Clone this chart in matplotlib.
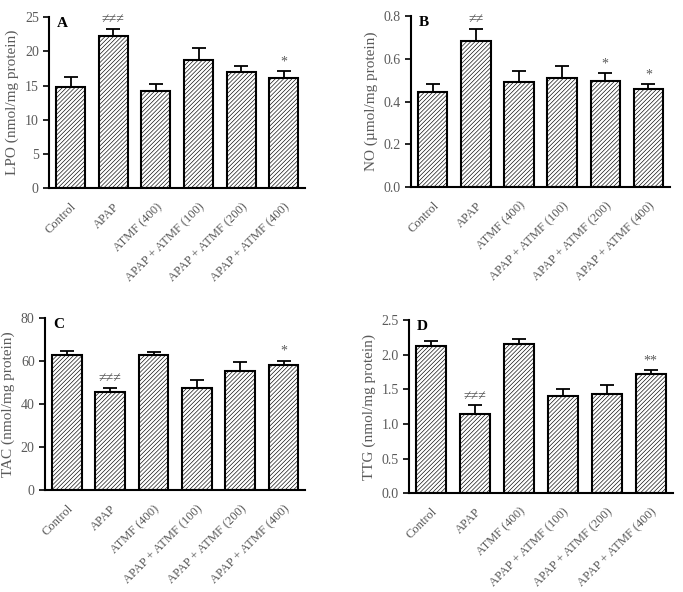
import matplotlib
matplotlib.use("Agg")
import matplotlib.pyplot as plt
import numpy as np

plt.rcParams['font.family'] = ['Liberation Serif', 'DejaVu Serif']
plt.rcParams['hatch.linewidth'] = 0.45

groups = ["Control", "APAP", "ATMF (400)", "APAP + ATMF (100)",
          "APAP + ATMF (200)", "APAP + ATMF (400)"]

lpo = [14.8, 22.2, 14.2, 18.7, 17.0, 16.1]
lpo_err = [1.5, 1.1, 1.0, 1.8, 0.9, 1.0]
lpo_sig = ["", "≠≠≠", "", "", "", "*"]

no = [0.445, 0.685, 0.49, 0.512, 0.495, 0.46]
no_err = [0.035, 0.055, 0.052, 0.055, 0.04, 0.02]
no_sig = ["", "≠≠", "", "", "*", "*"]

tac = [62.7, 45.5, 63.0, 47.5, 55.2, 58.0]
tac_err = [1.8, 2.0, 1.2, 3.5, 4.2, 2.2]
tac_sig = ["", "≠≠≠", "", "", "", "*"]

ttg = [2.13, 1.15, 2.16, 1.40, 1.44, 1.73]
ttg_err = [0.07, 0.12, 0.07, 0.11, 0.12, 0.05]
ttg_sig = ["", "≠≠≠", "", "", "", "**"]

panels = [
    dict(rect=[0.072, 0.682, 0.375, 0.289], vals=lpo, err=lpo_err, sig=lpo_sig,
         ylim=25, ticks=[0, 5, 10, 15, 20, 25], fmt="{:g}", letter="A",
         ylabel="LPO (nmol/mg protein)"),
    dict(rect=[0.602, 0.684, 0.379, 0.289], vals=no, err=no_err, sig=no_sig,
         ylim=0.8, ticks=[0, 0.2, 0.4, 0.6, 0.8], fmt="{:.1f}", letter="B",
         ylabel="NO (µmol/mg protein)"),
    dict(rect=[0.066, 0.172, 0.381, 0.291], vals=tac, err=tac_err, sig=tac_sig,
         ylim=80, ticks=[0, 20, 40, 60, 80], fmt="{:g}", letter="C",
         ylabel="TAC (nmol/mg protein)"),
    dict(rect=[0.599, 0.167, 0.386, 0.292], vals=ttg, err=ttg_err, sig=ttg_sig,
         ylim=2.5, ticks=[0, 0.5, 1.0, 1.5, 2.0, 2.5], fmt="{:.1f}", letter="D",
         ylabel="TTG (nmol/mg protein)"),
]

fig = plt.figure(figsize=(6.83, 5.92), dpi=100)
gray = "#5a5a5a"
x = np.arange(len(groups))
for p in panels:
    ax = fig.add_axes(p["rect"])
    ax.bar(x, p["vals"], width=0.68, color="white", edgecolor="black",
           linewidth=1.5, hatch="////////")
    ax.errorbar(x, p["vals"], yerr=[np.zeros(len(x)), p["err"]], fmt="none",
                ecolor="black", elinewidth=1.3, capsize=5, capthick=1.3)
    ax.set_xlim(-0.5, 5.5)
    ax.set_ylim(0, p["ylim"])
    ax.set_yticks(p["ticks"])
    ax.set_yticklabels([p["fmt"].format(t) for t in p["ticks"]], color=gray, fontsize=10)
    ax.set_xticks(x)
    ax.set_xticklabels(groups, rotation=45, ha="right", rotation_mode="anchor",
                       color=gray, fontsize=9)
    ax.tick_params(axis="x", length=0, pad=9)
    ax.tick_params(axis="y", length=4, width=1.2, direction="out")
    for s in ["top", "right"]:
        ax.spines[s].set_visible(False)
    for s in ["left", "bottom"]:
        ax.spines[s].set_linewidth(1.5)
    ax.set_ylabel(p["ylabel"], color=gray, fontsize=11)
    ax.text(0.03, 1.0, p["letter"], transform=ax.transAxes, fontsize=11,
            fontweight="bold", va="top", ha="left")
    for i, s in enumerate(p["sig"]):
        if s:
            ax.text(x[i], p["vals"][i] + p["err"][i] + p["ylim"] * 0.015, s,
                    ha="center", va="bottom", color=gray, fontsize=10)

fig.savefig("out.png", dpi=100)
